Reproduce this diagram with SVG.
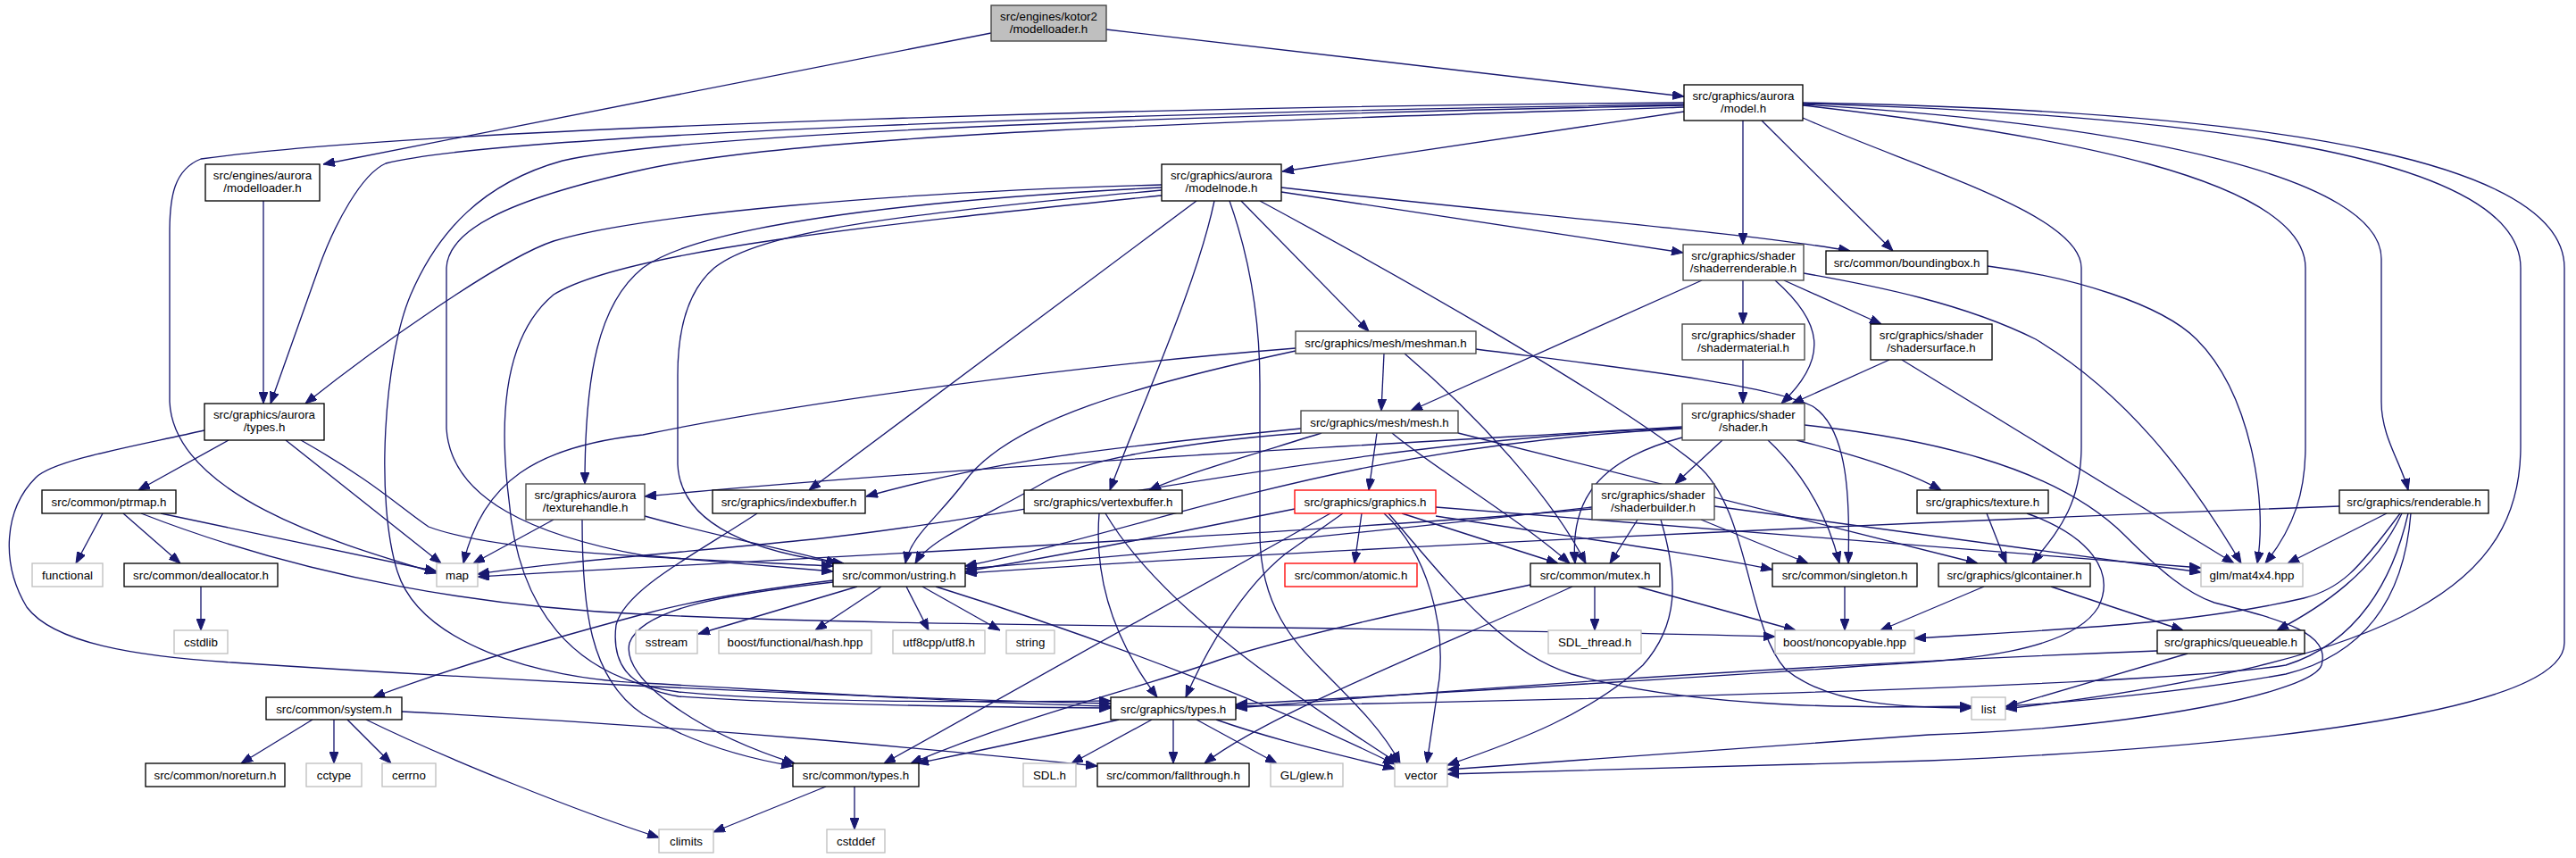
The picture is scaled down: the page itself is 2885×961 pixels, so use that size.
<svg xmlns="http://www.w3.org/2000/svg" width="2885" height="961" viewBox="0 0 2885 961">
<defs>
<marker id="a" viewBox="0 0 13 10" refX="13" refY="5" markerWidth="13" markerHeight="10" markerUnits="userSpaceOnUse" orient="auto"><path d="M0,0 L13,5 L0,10 z" fill="#191970" stroke="#191970" stroke-width="1"/></marker>
</defs>
<style>
.n rect{fill:#fff;stroke:#000;stroke-width:1.33}
.x rect{stroke:#bfbfbf}
.r rect{stroke:#f00}
.d rect{stroke:#404040}
.k rect{fill:#bfbfbf;stroke:#404040}
text{font-family:"Liberation Sans",Arial,Helvetica,sans-serif;font-size:13.33px;text-anchor:middle;fill:#000}
#edges path{fill:none;stroke:#191970;stroke-width:1.33;marker-end:url(#a)}
</style>
<rect width="2885" height="961" fill="#fff"/>
<g id="edges">
<path d="M1110,37 L362,184"/>
<path d="M1239,33 L1886,108"/>
<path d="M295,225 L295,452"/>
<path d="M1886,125 L1436,192"/>
<path d="M1952,135 L1952,274"/>
<path d="M1973,135 L2120,281"/>
<path d="M2019,132 C2150,190 2331,240 2331,300 L2331,500 C2331,570 2300,600 2276,631"/>
<path d="M2019,118 C2300,150 2582,200 2582,300 L2582,500 C2582,550 2570,590 2537,631"/>
<path d="M2019,117 C2400,140 2667,200 2667,290 L2667,450 C2667,490 2690,520 2697,549"/>
<path d="M2019,116 C2500,130 2823,180 2823,300 L2823,500 C2823,650 2700,740 2246,794"/>
<path d="M2019,115 C2600,125 2872,190 2872,300 L2872,720 C2872,800 2500,838 2160,852 L1621,867"/>
<path d="M1886,115 C1400,118 500,140 225,178 C195,190 190,220 190,260 L190,450 C195,560 400,615 489,642"/>
<path d="M1886,117 C1300,125 560,150 432,183 C405,195 375,250 357,300 L303,452"/>
<path d="M1886,118 C1300,130 760,150 630,180 C540,205 490,260 460,330 C430,400 420,560 445,640 C470,720 600,760 720,765 C900,775 1100,788 1244,791"/>
<path d="M1886,120 C1400,135 900,150 720,190 C560,225 502,260 500,300 L500,480 C505,560 600,600 720,622 L933,640"/>
<path d="M1301,207 C1000,215 720,240 620,270 C560,290 420,390 342,452"/>
<path d="M1301,210 C1000,225 780,255 720,300 C670,340 655,420 655,542"/>
<path d="M1301,213 C1000,240 850,260 800,300 C765,330 759,380 759,420 L759,520 C762,590 850,620 945,631"/>
<path d="M1301,219 C1000,250 700,280 620,330 C560,380 560,480 570,560 C580,680 640,760 760,775 C900,788 1100,786 1244,785"/>
<path d="M1340,225 L906,549"/>
<path d="M1360,225 C1340,320 1280,450 1243,549"/>
<path d="M1377,225 C1400,290 1411,360 1411,430 L1411,600 C1412,680 1450,720 1480,750 C1520,790 1550,820 1568,855"/>
<path d="M1390,225 L1533,371"/>
<path d="M1411,225 C1550,300 1800,440 1900,520 C1960,570 1955,700 2000,750 C2050,790 2130,792 2208,793"/>
<path d="M1435,215 L1885,283"/>
<path d="M1435,210 C1700,240 1950,260 2072,281"/>
<path d="M1952,314 L1952,363"/>
<path d="M1998,314 L2107,363"/>
<path d="M1988,314 C2040,360 2050,400 1995,452"/>
<path d="M1906,314 L1580,460"/>
<path d="M2020,306 C2100,320 2200,340 2280,380 C2380,440 2450,530 2510,631"/>
<path d="M1952,403 L1952,452"/>
<path d="M2116,403 L2007,452"/>
<path d="M2130,403 L2502,631"/>
<path d="M2226,298 C2320,310 2420,340 2460,380 C2520,440 2540,560 2528,631"/>
<path d="M1550,396 L1547,460"/>
<path d="M1451,390 C1200,410 900,450 720,487 C600,500 540,540 519,631"/>
<path d="M1451,393 C1280,430 1130,470 1080,540 C1050,580 1020,600 1014,631"/>
<path d="M1573,396 C1660,470 1740,560 1776,631"/>
<path d="M1653,391 C1800,410 1980,430 2030,455 C2070,480 2072,560 2070,631"/>
<path d="M1457,480 C1200,505 1100,520 970,556"/>
<path d="M1480,485 C1400,510 1330,530 1287,549"/>
<path d="M1542,485 L1533,549"/>
<path d="M1559,485 C1600,520 1700,580 1758,631"/>
<path d="M1633,485 L2215,631"/>
<path d="M1457,485 C1330,495 1210,515 1170,540 C1100,580 1040,605 1025,631"/>
<path d="M1884,478 C1600,495 1100,520 722,556"/>
<path d="M1929,493 L1876,542"/>
<path d="M2012,493 C2080,510 2140,530 2174,549"/>
<path d="M1884,490 C1790,515 1758,560 1764,631"/>
<path d="M1980,493 C2030,540 2050,590 2060,631"/>
<path d="M1884,480 C1500,500 1300,590 1081,634"/>
<path d="M1884,479 C1500,495 1150,580 900,605 C750,620 620,630 535,643"/>
<path d="M2021,476 C2150,490 2300,520 2380,600 C2420,640 2450,665 2480,675 C2560,695 2610,710 2600,745 C2590,775 2400,815 2160,823 L1621,862"/>
<path d="M1834,582 L1803,631"/>
<path d="M1905,582 L2025,631"/>
<path d="M1860,582 C1880,650 1880,700 1840,745 C1780,800 1700,830 1621,857"/>
<path d="M1920,567 L2465,641"/>
<path d="M1783,568 C1500,600 1300,620 1081,637"/>
<path d="M1783,570 C1500,595 900,625 535,646"/>
<path d="M1525,575 L1517,631"/>
<path d="M1570,575 L1745,631"/>
<path d="M1608,578 C1750,600 1900,620 1985,638"/>
<path d="M1608,568 L2465,636"/>
<path d="M1450,570 C1300,600 1200,620 1081,640"/>
<path d="M1504,575 L1440,620 C1390,660 1350,730 1328,781"/>
<path d="M1490,575 L990,855"/>
<path d="M1550,575 C1600,620 1618,700 1612,760 L1598,855"/>
<path d="M1555,575 C1620,650 1680,730 1760,755 C1900,795 2100,793 2208,791"/>
<path d="M2225,575 L2247,631"/>
<path d="M2270,575 C2340,600 2370,640 2350,680 C2320,730 2200,740 2100,745 C1900,760 1500,782 1384,789"/>
<path d="M2222,657 L2106,706"/>
<path d="M2297,657 L2445,706"/>
<path d="M2066,657 L2066,706"/>
<path d="M2416,729 C2000,745 1600,775 1384,793"/>
<path d="M2450,732 L2246,792"/>
<path d="M2620,567 C2000,590 1400,620 1081,642"/>
<path d="M2673,575 L2562,631"/>
<path d="M2690,575 C2660,640 2600,680 2550,706"/>
<path d="M2688,575 C2640,640 2620,660 2580,670 C2450,700 2300,705 2144,715"/>
<path d="M2697,575 C2680,650 2640,720 2560,745 C2400,770 1700,785 1384,791"/>
<path d="M2700,575 C2690,700 2620,740 2560,755 C2450,775 2300,788 2246,791"/>
<path d="M115,575 L85,631"/>
<path d="M138,575 L202,631"/>
<path d="M180,575 C300,600 420,625 489,640"/>
<path d="M158,575 C350,650 550,680 720,688 C1000,703 1500,700 1988,713"/>
<path d="M225,657 L225,706"/>
<path d="M256,493 L155,549"/>
<path d="M320,493 L494,631"/>
<path d="M337,493 C420,540 450,570 480,590 C560,620 750,625 933,634"/>
<path d="M229,482 C150,500 60,515 40,535 C5,570 0,630 30,680 C60,720 150,735 260,742 C500,758 900,780 1244,788"/>
<path d="M620,582 L530,631"/>
<path d="M722,578 C800,600 880,615 938,631"/>
<path d="M652,582 C652,680 660,760 720,800 C780,835 840,850 888,858"/>
<path d="M848,575 C780,620 700,660 690,700 C685,740 700,770 760,780 C900,790 1100,792 1244,793"/>
<path d="M1231,575 C1225,650 1250,720 1296,781"/>
<path d="M1238,575 C1300,680 1450,780 1566,855"/>
<path d="M960,657 L782,710"/>
<path d="M987,657 L913,706"/>
<path d="M1015,657 L1040,706"/>
<path d="M1033,657 L1120,706"/>
<path d="M1048,657 C1250,720 1450,800 1562,856"/>
<path d="M933,650 C850,660 780,672 720,688 C600,720 500,750 418,781"/>
<path d="M933,652 C820,665 720,680 705,720 C695,760 780,820 890,855"/>
<path d="M350,806 L270,855"/>
<path d="M374,806 L374,855"/>
<path d="M389,806 L438,855"/>
<path d="M450,797 C800,815 1050,840 1229,858"/>
<path d="M410,806 C500,850 650,910 738,938"/>
<path d="M925,881 L799,932"/>
<path d="M957,881 L957,929"/>
<path d="M1253,806 C1150,830 1100,840 1027,855"/>
<path d="M1290,806 L1200,855"/>
<path d="M1314,806 L1314,855"/>
<path d="M1340,806 L1430,855"/>
<path d="M1362,806 C1430,830 1500,845 1562,861"/>
<path d="M1786,657 L1786,706"/>
<path d="M1834,657 L2011,706"/>
<path d="M1714,655 C1550,690 1420,720 1363,740 C1280,770 1150,800 1020,855"/>
<path d="M1761,657 C1600,730 1420,800 1349,855"/>
</g>
<g id="kotor2" class="n k"><rect x="1110" y="6" width="129" height="40"/><text x="1174.5" y="22.5">src/engines/kotor2</text><text x="1174.5" y="37">/modelloader.h</text></g>
<g id="aurora_modelloader" class="n"><rect x="230" y="184" width="128" height="41"/><text x="294" y="200.5">src/engines/aurora</text><text x="294" y="215">/modelloader.h</text></g>
<g id="model" class="n"><rect x="1886" y="95" width="133" height="40"/><text x="1952.5" y="111.5">src/graphics/aurora</text><text x="1952.5" y="126">/model.h</text></g>
<g id="modelnode" class="n"><rect x="1301" y="184" width="134" height="41"/><text x="1368" y="200.5">src/graphics/aurora</text><text x="1368" y="215">/modelnode.h</text></g>
<g id="aurora_types" class="n"><rect x="229" y="452" width="134" height="41"/><text x="296" y="468.5">src/graphics/aurora</text><text x="296" y="483">/types.h</text></g>
<g id="shaderrenderable" class="n d"><rect x="1885" y="274" width="135" height="40"/><text x="1952.5" y="290.5">src/graphics/shader</text><text x="1952.5" y="305">/shaderrenderable.h</text></g>
<g id="boundingbox" class="n"><rect x="2045" y="281" width="181" height="26"/><text x="2135.5" y="299">src/common/boundingbox.h</text></g>
<g id="meshman" class="n d"><rect x="1451" y="371" width="202" height="25"/><text x="1552" y="389">src/graphics/mesh/meshman.h</text></g>
<g id="shadermaterial" class="n d"><rect x="1884" y="363" width="137" height="40"/><text x="1952.5" y="379.5">src/graphics/shader</text><text x="1952.5" y="394">/shadermaterial.h</text></g>
<g id="shadersurface" class="n"><rect x="2095" y="363" width="136" height="40"/><text x="2163" y="379.5">src/graphics/shader</text><text x="2163" y="394">/shadersurface.h</text></g>
<g id="mesh" class="n d"><rect x="1457" y="460" width="176" height="25"/><text x="1545" y="478">src/graphics/mesh/mesh.h</text></g>
<g id="shader" class="n d"><rect x="1884" y="452" width="137" height="41"/><text x="1952.5" y="468.5">src/graphics/shader</text><text x="1952.5" y="483">/shader.h</text></g>
<g id="ptrmap" class="n"><rect x="47" y="549" width="150" height="26"/><text x="122" y="567">src/common/ptrmap.h</text></g>
<g id="texturehandle" class="n d"><rect x="589" y="542" width="133" height="40"/><text x="655.5" y="558.5">src/graphics/aurora</text><text x="655.5" y="573">/texturehandle.h</text></g>
<g id="indexbuffer" class="n"><rect x="798" y="549" width="171" height="26"/><text x="883.5" y="567">src/graphics/indexbuffer.h</text></g>
<g id="vertexbuffer" class="n"><rect x="1147" y="549" width="177" height="26"/><text x="1235.5" y="567">src/graphics/vertexbuffer.h</text></g>
<g id="graphics" class="n r"><rect x="1450" y="549" width="158" height="26"/><text x="1529" y="567">src/graphics/graphics.h</text></g>
<g id="shaderbuilder" class="n d"><rect x="1783" y="542" width="137" height="40"/><text x="1851.5" y="558.5">src/graphics/shader</text><text x="1851.5" y="573">/shaderbuilder.h</text></g>
<g id="texture" class="n"><rect x="2147" y="549" width="147" height="26"/><text x="2220.5" y="567">src/graphics/texture.h</text></g>
<g id="renderable" class="n"><rect x="2620" y="549" width="167" height="26"/><text x="2703.5" y="567">src/graphics/renderable.h</text></g>
<g id="functional" class="n x"><rect x="36" y="631" width="79" height="26"/><text x="75.5" y="649">functional</text></g>
<g id="deallocator" class="n"><rect x="139" y="631" width="172" height="26"/><text x="225" y="649">src/common/deallocator.h</text></g>
<g id="map" class="n x"><rect x="489" y="631" width="46" height="26"/><text x="512" y="649">map</text></g>
<g id="ustring" class="n"><rect x="933" y="631" width="148" height="26"/><text x="1007" y="649">src/common/ustring.h</text></g>
<g id="atomic" class="n r"><rect x="1439" y="631" width="148" height="26"/><text x="1513" y="649">src/common/atomic.h</text></g>
<g id="mutex" class="n"><rect x="1714" y="631" width="145" height="26"/><text x="1786.5" y="649">src/common/mutex.h</text></g>
<g id="singleton" class="n"><rect x="1985" y="631" width="162" height="26"/><text x="2066" y="649">src/common/singleton.h</text></g>
<g id="glcontainer" class="n"><rect x="2171" y="631" width="170" height="26"/><text x="2256" y="649">src/graphics/glcontainer.h</text></g>
<g id="mat4x4" class="n x"><rect x="2465" y="631" width="114" height="26"/><text x="2522" y="649">glm/mat4x4.hpp</text></g>
<g id="cstdlib" class="n x"><rect x="195" y="706" width="60" height="26"/><text x="225" y="724">cstdlib</text></g>
<g id="sstream" class="n x"><rect x="712" y="706" width="69" height="26"/><text x="746.5" y="724">sstream</text></g>
<g id="hash" class="n x"><rect x="805" y="706" width="171" height="26"/><text x="890.5" y="724">boost/functional/hash.hpp</text></g>
<g id="utf8" class="n x"><rect x="1000" y="706" width="103" height="26"/><text x="1051.5" y="724">utf8cpp/utf8.h</text></g>
<g id="string" class="n x"><rect x="1127" y="706" width="54" height="26"/><text x="1154" y="724">string</text></g>
<g id="sdl_thread" class="n x"><rect x="1734" y="706" width="104" height="26"/><text x="1786" y="724">SDL_thread.h</text></g>
<g id="noncopyable" class="n x"><rect x="1988" y="706" width="156" height="26"/><text x="2066" y="724">boost/noncopyable.hpp</text></g>
<g id="queueable" class="n"><rect x="2416" y="706" width="165" height="26"/><text x="2498.5" y="724">src/graphics/queueable.h</text></g>
<g id="system" class="n"><rect x="298" y="781" width="152" height="25"/><text x="374" y="799">src/common/system.h</text></g>
<g id="graphics_types" class="n"><rect x="1244" y="781" width="140" height="25"/><text x="1314" y="799">src/graphics/types.h</text></g>
<g id="list" class="n x"><rect x="2208" y="781" width="38" height="25"/><text x="2227" y="799">list</text></g>
<g id="noreturn" class="n"><rect x="163" y="855" width="156" height="26"/><text x="241" y="873">src/common/noreturn.h</text></g>
<g id="cctype" class="n x"><rect x="343" y="855" width="62" height="26"/><text x="374" y="873">cctype</text></g>
<g id="cerrno" class="n x"><rect x="428" y="855" width="60" height="26"/><text x="458" y="873">cerrno</text></g>
<g id="common_types" class="n"><rect x="888" y="855" width="141" height="26"/><text x="958.5" y="873">src/common/types.h</text></g>
<g id="sdl" class="n x"><rect x="1146" y="855" width="59" height="26"/><text x="1175.5" y="873">SDL.h</text></g>
<g id="fallthrough" class="n"><rect x="1229" y="855" width="170" height="26"/><text x="1314" y="873">src/common/fallthrough.h</text></g>
<g id="glew" class="n x"><rect x="1423" y="855" width="81" height="26"/><text x="1463.5" y="873">GL/glew.h</text></g>
<g id="vector" class="n x"><rect x="1562" y="855" width="59" height="26"/><text x="1591.5" y="873">vector</text></g>
<g id="climits" class="n x"><rect x="738" y="929" width="61" height="26"/><text x="768.5" y="947">climits</text></g>
<g id="cstddef" class="n x"><rect x="926" y="929" width="65" height="26"/><text x="958.5" y="947">cstddef</text></g>
</svg>
